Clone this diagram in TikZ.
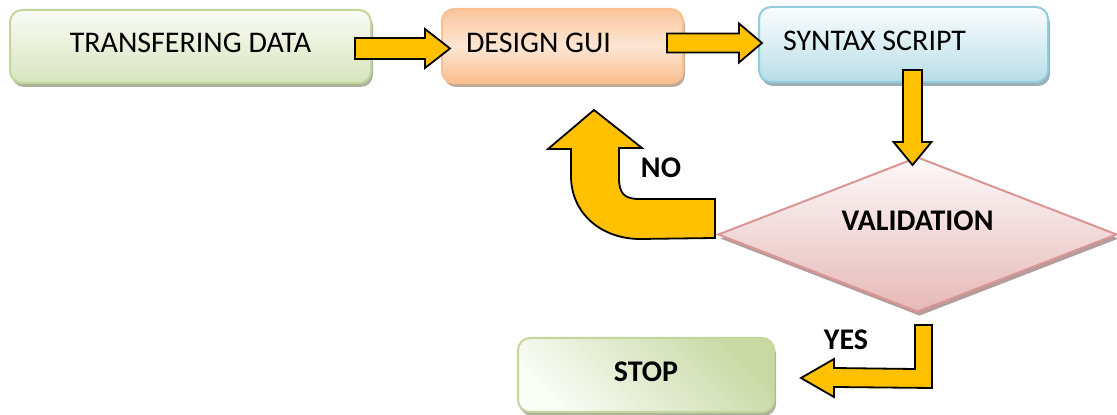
\documentclass[tikz,border=0pt]{standalone}
\usepackage{fontspec}
\setmainfont{Carlito}
\usetikzlibrary{calc,positioning,shapes.geometric,shadows}
\definecolor{greenLine}{HTML}{C3D69B}
\definecolor{greenTop}{HTML}{FAFCF6}
\definecolor{greenBot}{HTML}{D7E4BD}
\definecolor{greenDark}{HTML}{C8D9A4}
\definecolor{orangeLine}{HTML}{FAC090}
\definecolor{orangeTop}{HTML}{F9C59C}
\definecolor{orangeMid}{HTML}{FDE6D4}
\definecolor{orangeBot}{HTML}{F9BE8E}
\definecolor{blueLine}{HTML}{93CDDD}
\definecolor{blueTop}{HTML}{FAFDFE}
\definecolor{blueBot}{HTML}{B7DEE8}
\definecolor{redLine}{HTML}{D99694}
\definecolor{redTop}{HTML}{FDF9F9}
\definecolor{redBot}{HTML}{E6B9B8}
\definecolor{arrowFill}{HTML}{FFC000}
\tikzset{
	flowbox/.style={rectangle, rounded corners=6pt, draw=#1Line, line width=1pt, top color=#1Top, bottom color=#1Bot, text depth=3.5pt, drop shadow={shadow xshift=1pt, shadow yshift=-2pt, fill=#1Line!60!black, opacity=0.6}},
	blockarrow/.style={fill=arrowFill, draw=black, line width=0.9pt},
	lbl/.style={font=\fontsize{15}{18}\selectfont\bfseries}
}
\def\blockright(#1)(#2)[#3:#4:#5]{\draw[blockarrow] ($(#1 |- #2)+(0,-#3)$) -- ($(#2)+(-#5,-#3)$) -- ($(#2)+(-#5,-#4)$) -- (#2) -- ($(#2)+(-#5,#4)$) -- ($(#2)+(-#5,#3)$) -- ($(#1 |- #2)+(0,#3)$) -- cycle;}
\def\blockdown(#1)(#2)[#3:#4:#5]{\draw[blockarrow] ($(#2 |- #1)+(-#3,0)$) -- ($(#2)+(-#3,-#5)$) -- ($(#2)+(-#4,-#5)$) -- (#2) -- ($(#2)+(#4,-#5)$) -- ($(#2)+(#3,-#5)$) -- ($(#2 |- #1)+(#3,0)$) -- cycle;}

\begin{document}
\begin{tikzpicture}[x=0.5pt, y=-0.5pt, every node/.style={font=\fontsize{15}{18}\selectfont}]
	%%%%% START %%%%%
	
	\useasboundingbox (0, 0) rectangle (1117, 415);
	
	\node[flowbox=green, minimum width=180.5pt, minimum height=36.5pt] (transfer) at (190.5, 46.5) {TRANSFERING DATA};
	\node[flowbox=orange, middle color=orangeMid, minimum width=120.5pt, minimum height=37pt, inner xsep=12pt] (design) at (562.5, 46) {\makebox[96.5pt][l]{DESIGN GUI}};
	\node[flowbox=blue, minimum width=144.5pt, minimum height=37.5pt, inner xsep=12pt] (syntax) at (903.5, 44.5) {\makebox[120.5pt][l]{SYNTAX SCRIPT}};
	
	\node[diamond, draw=redLine, line width=1pt, top color=redTop, bottom color=redBot, drop shadow={shadow xshift=1pt, shadow yshift=-2pt, fill=redLine!60!black, opacity=0.6}, minimum width=199.5pt, minimum height=77.5pt, label={[lbl, name=validtext, yshift=7pt]center:VALIDATION}] (valid) at (917.5, 234.5) {};
	
	\node[flowbox=green, top color=greenDark, bottom color=greenTop, shading angle=-45, minimum width=128pt, minimum height=37pt, lbl] (stop) at (646, 375) {STOP};
	
	\node[lbl] (nolbl) at (661, 168) {NO};
	\node[lbl] (yeslbl) at (846, 340) {YES};
	
	\coordinate (a1s) at ($(transfer.east)+(-17, 2)$);
	\coordinate (a1t) at ($(design.west)+(9, 2.5)$);
	\blockright(a1s)(a1t)[10.5:19.5:25]
	
	\coordinate (a2s) at ($(design.east)+(-17, -3)$);
	\coordinate (a2t) at ($(syntax.west)+(4, -1.5)$);
	\blockright(a2s)(a2t)[9.5:19.5:23]
	
	\coordinate (a3s) at ($(syntax.south)+(9, -13)$);
	\coordinate (a3t) at ($(valid.north)+(-5, 9)$);
	\blockdown(a3s)(a3t)[9.5:19:23]
	
	\coordinate (nos) at ($(valid.west)+(-2, 3.5)$);
	\coordinate (not) at ($(design.south)+(31.5, 26)$);
	\draw[blockarrow] (nos) -- ++(0, -39) -- ++(-76, 0) .. controls +(-15, 0) and +(0, 15) .. ++(-20, -21) -- ++(0, -30) -- ++(23, 0) -- (not) -- ++(-46, 39) -- ++(23, 0) -- ++(0, 27) .. controls +(0, 38) and +(-38, 0) .. ++(69, 63) -- cycle;
	
	\coordinate (yess) at ($(valid.south)+(6, 12)$);
	\coordinate (yest) at ($(stop.east)+(26, 3)$);
	\draw[blockarrow] ($(yess)+(-8.5, 0)$) -- ++(17, 0) -- ++(0, 63) -- ($(yest)+(33, 9)$) -- ++(0, 10) -- (yest) -- ($(yest)+(33, -19)$) -- ++(0, 9) -- ($(yess)+(-8.5, 44)$) -- cycle;
	
	%%%%% END %%%%%
\end{tikzpicture}
\end{document}
